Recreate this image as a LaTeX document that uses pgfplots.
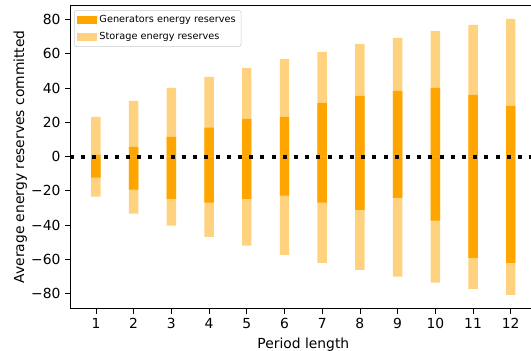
\documentclass[border=0pt]{standalone}
\usepackage{pgfplots}
\pgfplotsset{compat=1.18}
\usepackage{fontspec}
\setmainfont{DejaVu Sans}
\definecolor{gen}{HTML}{FFA500}
\definecolor{sto}{HTML}{FFD27F}
\begin{document}
\begin{tikzpicture}
\begin{axis}[name=ax, scale only axis, width=350pt, height=227.8pt,
  xmin=0.3125, xmax=12.6875, ymin=-88.9, ymax=88.5,
  xtick={1,...,12},
  ytick={-80,-60,-40,-20,0,20,40,60,80},
  yticklabels={−80,−60,−40,−20,0,20,40,60,80},
  /pgf/number format/assume math mode=true,
  tick align=outside, tick pos=left, major tick length=3.6pt,
  tick style={black, line width=0.6pt},
  axis line style={line width=0.6pt},
  ticklabel style={font=\fontsize{10.4}{12}\selectfont},
  xlabel={Period length}, ylabel={Average energy reserves committed},
  ylabel shift=-3.75pt,
  label style={font=\fontsize{10.4}{12}\selectfont},
  legend style={at={(0.0086,0.9835)}, anchor=north west, draw=black!20, rounded corners=2pt,
    font=\fontsize{7.3}{8.8}\selectfont, row sep=1.5pt, inner sep=2pt},
  legend cell align=left,
]
\addlegendimage{legend image code/.code={\fill[gen, sharp corners] (0pt,-2.6pt) rectangle (14.5pt,2.6pt);}}
\addlegendentry{Generators energy reserves}
\addlegendimage{legend image code/.code={\fill[sto, sharp corners] (0pt,-2.6pt) rectangle (14.5pt,2.6pt);}}
\addlegendentry{Storage energy reserves}
% storage up
\addplot[forget plot, ybar, bar width=0.25, bar shift=0pt, fill=sto, draw=none] coordinates {
(1,23.2) (2,32.5) (3,40.1) (4,46.5) (5,51.8) (6,57.1) (7,61.1) (8,65.8) (9,69.3) (10,73.4) (11,76.9) (12,80.4)};
% storage down
\addplot[forget plot, ybar, bar width=0.25, bar shift=0pt, fill=sto, draw=none] coordinates {
(1,-23.5) (2,-33.3) (3,-40.3) (4,-46.9) (5,-52.1) (6,-57.4) (7,-62.1) (8,-66.2) (9,-70.2) (10,-73.7) (11,-77.3) (12,-80.8)};
% generators up
\addplot[forget plot, ybar, bar width=0.25, bar shift=0pt, fill=gen, draw=none] coordinates {
(1,1.0) (2,5.7) (3,11.5) (4,16.8) (5,22.0) (6,23.2) (7,31.4) (8,35.4) (9,38.4) (10,40.1) (11,36.0) (12,29.6)};
% generators down
\addplot[forget plot, ybar, bar width=0.25, bar shift=0pt, fill=gen, draw=none] coordinates {
(1,-12.4) (2,-19.4) (3,-24.7) (4,-26.9) (5,-24.7) (6,-22.9) (7,-26.9) (8,-31.1) (9,-24.1) (10,-37.5) (11,-59.2) (12,-62.1)};
% zero line
\addplot[forget plot, black, line width=3pt, dash pattern=on 3pt off 5.4pt] coordinates {(0.3125,0) (12.6875,0)};
\end{axis}
\pgfresetboundingbox
\path ([xshift=-52.5pt,yshift=-31.7pt]ax.south west) rectangle ([xshift=345.75pt,yshift=3.75pt]ax.north west);
\end{tikzpicture}
\end{document}
